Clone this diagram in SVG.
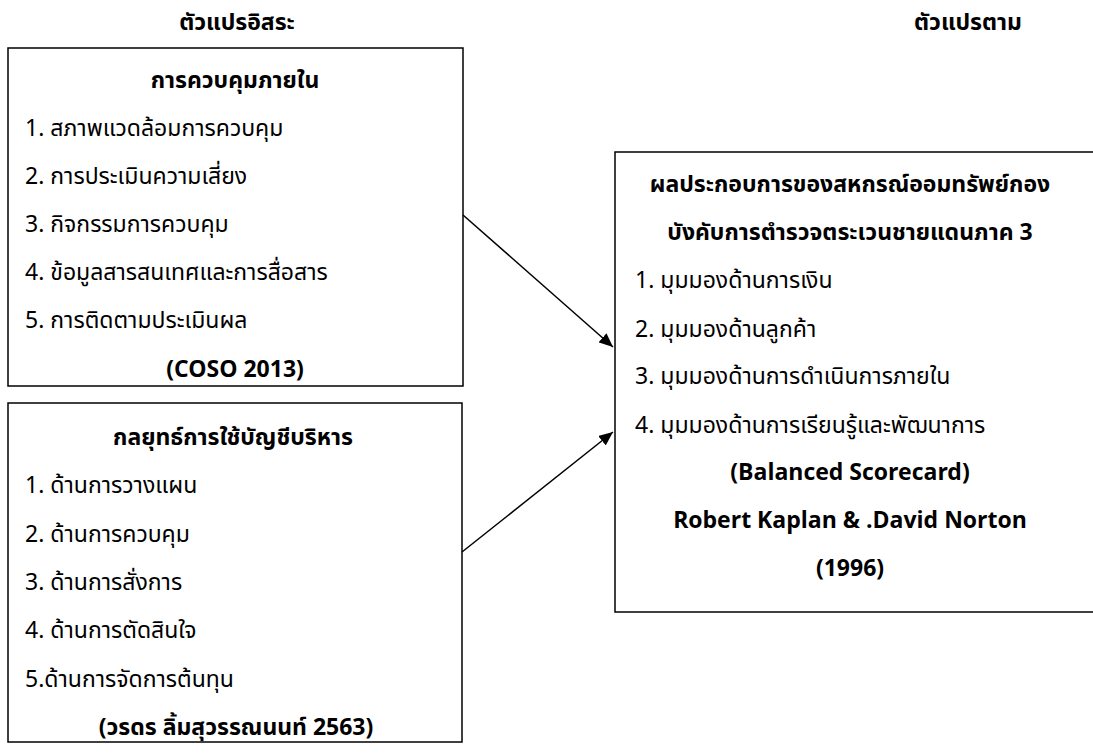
<svg xmlns="http://www.w3.org/2000/svg" width="1093" height="753" viewBox="0 0 1093 753">
<defs>
<style>
text{font-family:"Noto Sans Thai","Noto Sans","DejaVu Sans",sans-serif;font-size:23px;fill:#000}
.b{font-weight:bold}
.c{text-anchor:middle}
.box{fill:#fff;stroke:#000;stroke-width:1.5}
.conn{stroke:#000;stroke-width:1.5;fill:none}
</style>
<marker id="ah" viewBox="0 0 14 12" refX="14" refY="6" markerWidth="14" markerHeight="12" markerUnits="userSpaceOnUse" orient="auto">
<path d="M0,0 L14,6 L0,12 z" fill="#000"/>
</marker>
</defs>
<rect width="1093" height="753" fill="#fff"/>
<g id="label-independent"><text class="b c" x="237" y="30">ตัวแปรอิสระ</text></g>
<g id="label-dependent"><text class="b c" x="968" y="30">ตัวแปรตาม</text></g>
<g id="node-internal-control">
<rect class="box" x="8" y="48" width="455" height="338"/>
<text class="b c" x="235" y="88">การควบคุมภายใน</text>
<text x="25" y="136">1. สภาพแวดล้อมการควบคุม</text>
<text x="25" y="184">2. การประเมินความเสี่ยง</text>
<text x="25" y="232">3. กิจกรรมการควบคุม</text>
<text x="25" y="280">4. ข้อมูลสารสนเทศและการสื่อสาร</text>
<text x="25" y="328">5. การติดตามประเมินผล</text>
<text class="b c" x="235" y="377">(COSO 2013)</text>
</g>
<g id="node-management-accounting">
<rect class="box" x="8" y="403" width="454" height="339"/>
<text class="b c" x="233" y="445">กลยุทธ์การใช้บัญชีบริหาร</text>
<text x="25" y="493">1. ด้านการวางแผน</text>
<text x="25" y="542">2. ด้านการควบคุม</text>
<text x="25" y="590">3. ด้านการสั่งการ</text>
<text x="25" y="638">4. ด้านการตัดสินใจ</text>
<text x="25" y="687">5.ด้านการจัดการต้นทุน</text>
<text class="b c" x="236" y="735">(วรดร ลิ้มสุวรรณนนท์ 2563)</text>
</g>
<g id="node-performance">
<rect class="box" x="615" y="152" width="490" height="460"/>
<text class="b c" x="850" y="192">ผลประกอบการของสหกรณ์ออมทรัพย์กอง</text>
<text class="b c" x="850" y="240">บังคับการตำรวจตระเวนชายแดนภาค 3</text>
<text x="635" y="288">1. มุมมองด้านการเงิน</text>
<text x="635" y="337">2. มุมมองด้านลูกค้า</text>
<text x="635" y="384">3. มุมมองด้านการดำเนินการภายใน</text>
<text x="635" y="433">4. มุมมองด้านการเรียนรู้และพัฒนาการ</text>
<text class="b c" x="850" y="480">(Balanced Scorecard)</text>
<text class="b c" x="850" y="528">Robert Kaplan &amp; .David Norton</text>
<text class="b c" x="850" y="576">(1996)</text>
</g>
<g id="connectors">
<line class="conn" x1="463" y1="215" x2="613" y2="347" marker-end="url(#ah)"/>
<line class="conn" x1="462" y1="552" x2="613" y2="432" marker-end="url(#ah)"/>
</g>
</svg>
